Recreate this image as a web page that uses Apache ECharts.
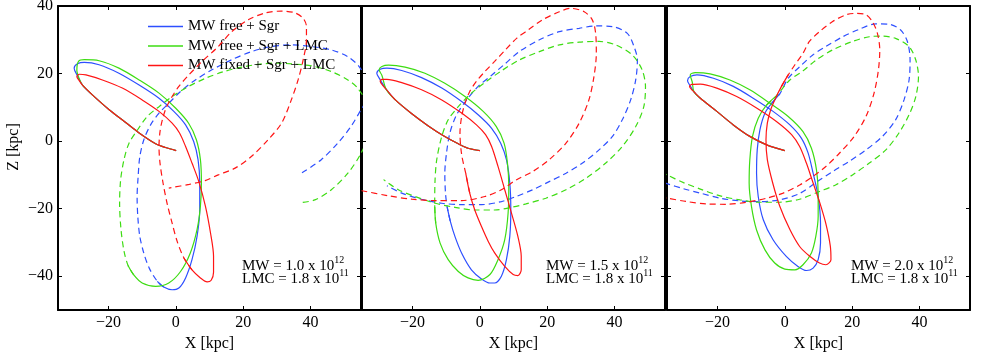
<!DOCTYPE html>
<html>
<head>
<meta charset="utf-8">
<script src="https://cdn.jsdelivr.net/npm/echarts@6/dist/echarts.min.js"></script>
<style>
  html, body { margin: 0; padding: 0; background: #fff; }
  #chart { width: 981px; height: 352px; }
</style>
</head>
<body>
<div id="chart"></div>
<script>
// tick positions
const xTicks = [-20, 0, 20, 40];
const yTicks = [-40, -20, 0, 20, 40];

const seriesNames = ["MW free + Sgr", "MW free + Sgr + LMC", "MW fixed + Sgr + LMC"];
const mwMass = ["1.0", "1.5", "2.0"];
const lmcMass = ["1.8", "1.8", "1.8"];

// panel 1 (MW = 1.0e12)
const p1Shared = [[0.1,-2.8],[-3.1,-1.9],[-6,-0.8],[-10.9,2.4],[-14.9,5.5],[-19.8,9.3],[-24.8,13.7],[-27.6,16.4]];
const p1RedSolid = [[-28.7,17.9],[-29.4,19.1],[-28.7,19.8],[-26.7,19.6],[-21.8,18.1],[-15.9,15.7],[-10,12.2],[-5,8.8],[-1.1,5.3],[1.1,2.4],[2.9,-1.6],[4.8,-6.5],[6.8,-11.9],[8.8,-19.3],[10.3,-27.2],[11.2,-34.1],[11.2,-38.8],[10.5,-41.2],[9.3,-41.7],[7.3,-40.5],[4.8,-38.1],[2.4,-34.6]];
const p1RedDash = [[2.4,-34.6],[0.4,-29.7],[-1.1,-24.3],[-2.6,-18.4],[-3.8,-12.4],[-4.7,-6.5],[-5,-1.6],[-4.7,2.8],[-4,6.3],[-2.9,9.8],[-1.1,13.2],[0.9,16.2],[3.6,19.3],[7.5,23.3],[12.6,28],[16.6,32.4],[21.5,35.9],[26.4,37.9],[31.4,38.5],[35.3,38],[37.8,36.4],[38.8,33.9],[38.8,30],[37.8,24],[36.3,18.1],[34.3,12.2],[31.4,5.3],[27.4,0.4],[22.5,-4.5],[17.6,-8],[12.6,-10],[8.7,-11.7],[4,-12.8],[-2.1,-13.9]];
const p1BlueSolid = [[-29.3,19.5],[-30.2,21.6],[-29.2,22.9],[-27.2,23.3],[-22.8,22.6],[-16.9,20.1],[-10.9,16.6],[-5,12.7],[-0.6,8.8],[2.9,4.8],[5.3,-0.1],[6.6,-5.5],[7.1,-12.4],[7.1,-20.3],[6.3,-28.2],[4.8,-35.1],[2.9,-40.5],[0.9,-43.5],[-1.1,-44],[-3.6,-43.2],[-5.5,-41.5]];
const p1BlueDash = [[-5.5,-41.5],[-7.9,-37.6],[-9.5,-33.2],[-10.7,-28.2],[-11.3,-22.3],[-11.5,-16.4],[-11.2,-10.5],[-10.7,-4.6],[-9.5,0.4],[-7.5,4.8],[-5,8.3],[-2.1,11.2],[1.4,14.7],[5.8,18.1],[10.7,21.1],[16.6,24.1],[22.5,26.5],[28.4,28],[34.3,28.5],[40.2,28],[46.2,27],[51.1,25],[54.5,22],[57,17],[56.5,12],[55,9.3],[52,4.3],[48.1,-0.6],[43.2,-5.5],[37.3,-9.5]];
const p1GreenSolid = [[-28.7,18.5],[-29.4,21],[-28.9,23.6],[-27.2,24.1],[-22.8,23.8],[-16.9,21.6],[-10.9,18.1],[-5,14.2],[-0.1,9.8],[3.8,5.3],[6.1,0.4],[7.3,-5.5],[7.6,-12.4],[7.3,-19.3],[6.3,-26.2],[4.3,-33.1],[1.4,-38.6],[-2.1,-42],[-6,-43],[-10,-42],[-12.5,-39.6],[-14.2,-36.8]];
const p1GreenDash = [[-14.2,-36.8],[-15.4,-32.5],[-16.3,-26],[-16.7,-18.4],[-16.4,-11.5],[-15.4,-5.5],[-13.9,-0.6],[-11.4,3.3],[-8.5,7.3],[-5,10.2],[-1.1,13.2],[3.8,16.2],[8.8,18.6],[14,20.5],[19.6,21.9],[25,22.8],[30,23.1],[35,22.8],[40.2,22.3],[46.2,20.6],[51.1,18.1],[54,15.7],[57,10],[57,2],[55,-3.6],[51.1,-9.5],[46.2,-14.4],[41.3,-17.4],[37.3,-18.2]];

// panel 2 (MW = 1.5e12)
const p2Shared = [[0,-2.8],[-3.5,-2.1],[-6.4,-0.8],[-10.8,1.6],[-15.3,4.5],[-20.2,8.1],[-25.1,12.2],[-27.8,15.3]];
const p2RedSolid = [[-28.6,16.2],[-29.6,17.7],[-29.1,18.3],[-27.6,18.3],[-23.2,17.3],[-17.3,15.2],[-11.3,12.2],[-5.4,8.3],[-1,4.8],[1.7,1.9],[3.5,-1.6],[5.4,-7.5],[7.4,-14.4],[9.4,-21.3],[11.3,-28.2],[12.3,-34.1],[12.3,-38.1],[11.3,-39.8],[9.9,-39.5],[7.4,-37.1],[4.4,-33.1],[2.5,-29.7],[0.5,-25.3],[-1.5,-20.4],[-3,-15.4],[-4.2,-9.5]];
const p2RedDash = [[-4.2,-9.5],[-5.4,-4],[-5.9,2.3],[-5.4,7.3],[-4.4,11.2],[-3,14.7],[-1,17.7],[1.5,20.6],[4.4,23.6],[7.6,27],[11,30.5],[14.5,33],[18.6,35.9],[23.6,38.3],[27,39.3],[31,38.3],[33.4,35.9],[34.4,31.9],[34.6,26],[33.9,19.1],[32.4,12.2],[29.5,5.3],[25.6,-0.6],[20.6,-5.5],[15.7,-9],[10.8,-11.5],[6.4,-14.4],[1.5,-16.4],[-5.4,-17.6],[-13.3,-17.6],[-20.2,-17.2],[-27.1,-16.2],[-35,-14.7],[-38,-14.2]];
const p2BlueSolid = [[-29.8,18.5],[-30.6,20.1],[-29.6,21.3],[-27.6,21.6],[-23.2,20.9],[-17.3,18.8],[-11.3,15.7],[-5.4,11.7],[-0.5,7.8],[3.5,3.8],[6.2,-0.6],[7.9,-5.5],[8.9,-12.4],[9.2,-20.3],[8.9,-28.2],[7.9,-35.1],[6.4,-40],[4.4,-42],[3,-42],[0.5,-40.8],[-2.5,-38.1],[-5.2,-33.6],[-7.3,-28.5],[-8.8,-23.6],[-9.7,-19.5]];
const p2BlueDash = [[-9.7,-19.5],[-10.2,-15.4],[-10.4,-9.5],[-9.9,-3.6],[-8.9,2.4],[-6.9,7.8],[-3.9,12.2],[-0.5,16.2],[3.5,19.5],[7.4,22.8],[11.7,26.5],[17.7,30],[23.6,32.4],[29.5,33.4],[34.4,34.1],[39.4,33.9],[43.8,31.9],[45.8,28],[46.8,24],[46.3,18.1],[44.8,12.2],[42.3,6.3],[39.4,1.4],[35.4,-2.6],[30.5,-6.5],[25.6,-9.5],[20.6,-12],[15.7,-14.4],[10.8,-16.4],[6.4,-17.9],[0.5,-18.8],[-5.4,-18.8],[-11.3,-18.4],[-17.3,-17.2],[-23.2,-15.4],[-27.6,-13.2]];
const p2GreenSolid = [[-29.1,19.5],[-29.9,21.1],[-29.1,22.1],[-27.1,22.5],[-22.2,21.9],[-16.3,20.1],[-10.4,17.1],[-4.4,13.2],[1,8.8],[4.9,4.3],[7.2,-0.6],[8.2,-6.5],[8.6,-13.4],[8.4,-21.3],[7.4,-29.2],[5.4,-35.1],[3,-39.5],[-0.5,-41.2],[-3.5,-40.5],[-6.4,-38.6],[-9.4,-35.1],[-11.8,-30.2],[-13.1,-24.3],[-13.4,-19]];
const p2GreenDash = [[-13.4,-19],[-13.3,-11.5],[-12.8,-5.5],[-11.3,1.4],[-9.4,6.3],[-6.4,10.2],[-2.5,14.2],[2,17.7],[6.4,20.8],[11.7,24],[17.7,26.5],[23.6,28.5],[29.5,29.3],[35.4,29.5],[40.3,28.5],[45.3,25.5],[48.2,21.1],[49.2,16.1],[48.7,10.2],[46.3,4.3],[42.3,-1.6],[37.4,-6.5],[31.5,-11],[25.6,-14.4],[19.6,-16.9],[13.7,-18.6],[9.4,-19.6],[4.4,-20.4],[-1.5,-20.4],[-7.4,-19.6],[-13.3,-18.4],[-19.2,-16.4],[-24.2,-14.4],[-28.6,-11.4]];

// panel 3 (MW = 2.0e12)
const p3Shared = [[0,-2.8],[-5.4,-1.1],[-10.4,1.4],[-15.3,4.8],[-20.2,8.8],[-25.1,12.7],[-27,14.6]];
const p3RedSolid = [[-27.6,15.2],[-28.3,16.2],[-27.6,16.8],[-25.1,16.9],[-20.2,15.7],[-14.3,13.2],[-8.4,9.8],[-2.5,5.8],[2,1.9],[4.4,-1.6],[6.4,-6.5],[8.4,-12.4],[10.4,-18.3],[12.2,-24.5],[13.5,-31],[13.7,-35.1],[12.2,-36.6],[10.3,-36.1],[7.4,-34.1],[4.4,-31.2],[1.5,-26.2],[-1.5,-19.3],[-3.6,-12.4],[-5.2,-5.5],[-5.6,0.4],[-5.2,5.3],[-4.2,9.3],[-3,12.2],[-1,16.2],[1,19.6]];
const p3RedDash = [[1,19.6],[3,22.6],[5.4,26],[7.3,29.5],[10.3,32.4],[14.2,35.4],[18.2,37.4],[21.1,37.8],[24.1,37.4],[26,35.4],[27.5,31.9],[28.2,27],[27.8,21.1],[26.5,14.2],[24.1,7.3],[20.6,1.4],[16.2,-3.6],[12.2,-7.5],[8.3,-10.5],[4.4,-13],[-0.5,-15.4],[-5.4,-16.9],[-11.3,-18.1],[-17.3,-18.7],[-23.2,-18.6],[-29.1,-17.9],[-35,-16.9],[-38,-16.4]];
const p3BlueSolid = [[-28.2,16.5],[-28.9,17.9],[-28.1,19.1],[-26.1,19.6],[-21.2,18.6],[-15.3,16.2],[-9.4,12.7],[-3.5,8.8],[1.5,4.8],[4.9,0.9],[6.9,-3.5],[8.4,-9.5],[9.9,-16.4],[10.6,-24.3],[10.6,-30.2],[9.9,-35.1],[8.4,-37.6],[6.4,-38.3],[3.9,-37.1],[0.5,-34.2],[-3.5,-29.2],[-6.4,-23.3],[-7.9,-16.4],[-8.4,-9.5],[-8.2,-2.6],[-7.4,3.3],[-5.9,8.3],[-3.9,11.2],[-1.5,14]];
const p3BlueDash = [[-1.5,14],[1,18.6],[4.4,22],[8.3,25.5],[12.2,28],[17.2,30.9],[22.1,33.1],[27,34.7],[31,34.6],[34.4,32.9],[36.4,29.5],[37.2,24],[36.9,18.1],[35.4,12.2],[32.9,6.3],[29,1.4],[24.1,-2.6],[19.1,-6],[14.2,-9],[9.3,-12.2],[4.4,-15.5],[-1.5,-17.4],[-7.4,-17.9],[-13.3,-17.7],[-19.2,-16.9],[-25.1,-15.4],[-30.1,-14.1],[-35,-12.6],[-38,-11.6]];
const p3GreenSolid = [[-27.5,17.5],[-28.1,19.6],[-26.6,20.3],[-22.2,19.9],[-16.3,18.1],[-10.4,15.2],[-4.4,11.2],[1,7.3],[5.4,2.8],[7.9,-2.1],[9.4,-8.5],[9.9,-15.4],[9.9,-22.3],[9.2,-28.2],[7.9,-33.1],[5.4,-36.6],[3,-38.1],[0,-37.9],[-3,-36.1],[-5.9,-32.2],[-8.4,-26.3],[-9.9,-19.4],[-10.6,-12.4],[-10.4,-5.5],[-9.6,1.4],[-7.9,6.8],[-5.4,10.7],[-2.5,13.4]];
const p3GreenDash = [[-2.5,13.4],[1.5,18.1],[5.4,20.8],[9.3,24],[14.2,27],[20.1,29.5],[25.1,30.9],[29,31.1],[32.9,30.4],[36.9,28],[38.9,24],[39.7,19.1],[38.9,13.2],[36.9,7.8],[33.9,2.4],[30,-2.6],[25.1,-6.5],[20.1,-10],[15.2,-12.9],[10.3,-14.9],[4.4,-17.2],[-1.5,-18.1],[-7.4,-18.1],[-13.3,-17.4],[-19.2,-16.2],[-25.1,-14.2],[-30.1,-12.3],[-35,-10],[-38,-8.5]];

const FONT = "Liberation Serif";
const BLUE = "#2d4fff", GREEN = "#3ddc12", RED = "#ff1515";

const panels = [
  { shared: p1Shared, blue: [p1BlueSolid, p1BlueDash], green: [p1GreenSolid, p1GreenDash], red: [p1RedSolid, p1RedDash] },
  { shared: p2Shared, blue: [p2BlueSolid, p2BlueDash], green: [p2GreenSolid, p2GreenDash], red: [p2RedSolid, p2RedDash] },
  { shared: p3Shared, blue: [p3BlueSolid, p3BlueDash], green: [p3GreenSolid, p3GreenDash], red: [p3RedSolid, p3RedDash] },
];
const gridLefts = [58, 362, 667];

function fmt(v) { return String(v).replace("-", "\u2212"); }

const grids = [], xAxes = [], yAxes = [], series = [], graphics = [];

panels.forEach((p, g) => {
  grids.push({ left: gridLefts[g], top: 6, width: 303, height: 304, outerBoundsMode: "none", containLabel: false });
  ["bottom", "top"].forEach((pos) => {
    xAxes.push({
      type: "value", gridIndex: g, position: pos, min: -35, max: 55,
      axisLine: { show: true, onZero: false, lineStyle: { color: "#000", width: 2 } },
      axisTick: { show: true, inside: true, length: 4, customValues: xTicks, lineStyle: { color: "#000", width: 1 } },
      axisLabel: { show: pos === "bottom", customValues: xTicks, formatter: fmt, margin: 5, color: "#000", fontSize: 16, fontFamily: FONT },
      splitLine: { show: false },
      name: pos === "bottom" ? "X [kpc]" : "",
      nameLocation: "middle", nameGap: 24,
      nameTextStyle: { color: "#000", fontSize: 16, fontFamily: FONT },
    });
  });
  ["left", "right"].forEach((pos) => {
    yAxes.push({
      type: "value", gridIndex: g, position: pos, min: -50, max: 40,
      axisLine: { show: true, onZero: false, lineStyle: { color: "#000", width: 2 } },
      axisTick: { show: true, inside: true, length: 4, customValues: yTicks, lineStyle: { color: "#000", width: 1 } },
      axisLabel: { show: g === 0 && pos === "left", customValues: yTicks, formatter: fmt, margin: 5, color: "#000", fontSize: 16, fontFamily: FONT },
      splitLine: { show: false },
      name: g === 0 && pos === "left" ? "Z [kpc]" : "",
      nameLocation: "middle", nameGap: 36,
      nameTextStyle: { color: "#000", fontSize: 16, fontFamily: FONT, padding: [0, 0, 0, 22] },
    });
  });

  const groups = [["blue", BLUE, 0], ["green", GREEN, 1], ["red", RED, 2]];
  groups.forEach(([key, col, ni]) => {
    const [solid, dash] = p[key];
    series.push({
      name: seriesNames[ni], type: "line", xAxisIndex: 2 * g, yAxisIndex: 2 * g,
      data: p.shared.concat(solid), showSymbol: false, symbol: "none", smooth: 0.3,
      itemStyle: { color: col }, lineStyle: { color: col, width: 1.2 }, z: 2 + ni,
    });
    // dashed part starts one point early (over the solid) so the join stays smooth
    series.push({
      name: seriesNames[ni] + " dash", type: "line", xAxisIndex: 2 * g, yAxisIndex: 2 * g,
      data: [solid[solid.length - 2]].concat(dash), showSymbol: false, symbol: "none", smooth: 0.3,
      itemStyle: { color: col }, lineStyle: { color: col, width: 1.2, type: [6, 4] }, z: 2 + ni,
    });
  });

  const rich = {
    a: { fontSize: 15, fontFamily: FONT, color: "#000", lineHeight: 19, verticalAlign: "bottom" },
    s: { fontSize: 10, fontFamily: FONT, color: "#000", lineHeight: 19, verticalAlign: "top" },
  };
  graphics.push({
    type: "text", left: gridLefts[g] + 184, top: 255,
    style: { text: "{a|MW = " + mwMass[g] + " x 10}{s|12}", rich: rich },
  });
  graphics.push({
    type: "text", left: gridLefts[g] + 184, top: 268,
    style: { text: "{a|LMC = " + lmcMass[g] + " x 10}{s|11}", rich: rich },
  });
});

const chart = echarts.init(document.getElementById("chart"), null, { renderer: "canvas" });
chart.setOption({
  animation: false,
  backgroundColor: "#fff",
  grid: grids,
  xAxis: xAxes,
  yAxis: yAxes,
  legend: {
    data: seriesNames, orient: "vertical", left: 143, top: 14,
    icon: "rect", itemWidth: 35, itemHeight: 1.5, itemGap: 4.5,
    itemStyle: { borderWidth: 0 },
    textStyle: { color: "#000", fontSize: 15, fontFamily: FONT },
    selectedMode: false,
  },
  series: series,
  graphic: graphics,
});
</script>
</body>
</html>
